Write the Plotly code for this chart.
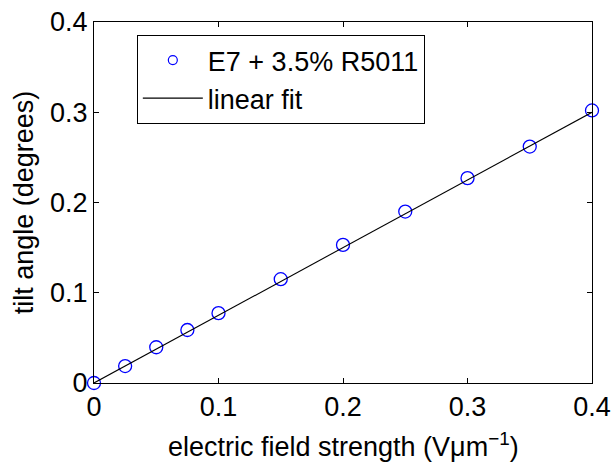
import plotly.graph_objects as go

# Measured tilt angle versus applied field
field = [0.0, 0.025, 0.05, 0.075, 0.1, 0.15, 0.2, 0.25, 0.3, 0.35, 0.4]
tilt = [0.0, 0.0188, 0.0396, 0.0587, 0.0774, 0.115, 0.153, 0.190, 0.227, 0.262, 0.302]

# Linear fit through the data
fit_slope = 0.75
fit_intercept = 0.0
fit_x = [0.0, 0.4]
fit_y = [fit_intercept + fit_slope * v for v in fit_x]

tick_vals = [0, 0.1, 0.2, 0.3, 0.4]
tick_text = ["0", "0.1", "0.2", "0.3", "0.4"]

series_name = "E7 + 3.5% R5011"
x_title = "electric field strength (Vμm<sup>−1</sup>)"
y_title = "tilt angle (degrees)"
font_family = "Liberation Sans, Arial, Helvetica, sans-serif"
blue = "#0000ff"
fs = 27

fig = go.Figure()
# legend entry with a smaller circle than the plotted points
fig.add_trace(go.Scatter(
    x=[None], y=[None], mode="markers", name=series_name,
    marker=dict(symbol="circle-open", size=9, color=blue,
                line=dict(width=1.2, color=blue)),
))
fig.add_trace(go.Scatter(
    x=field, y=tilt, mode="markers", name=series_name, showlegend=False,
    marker=dict(symbol="circle-open", size=13, color=blue,
                line=dict(width=1.3, color=blue)),
    cliponaxis=False,
))
fig.add_trace(go.Scatter(
    x=fit_x, y=fit_y, mode="lines", name="linear fit",
    line=dict(color="black", width=1.1),
))

axis_common = dict(
    showgrid=False, zeroline=False, showline=True, linecolor="black",
    linewidth=1, mirror="ticks", ticks="inside", ticklen=5,
    tickcolor="black", tickvals=tick_vals, ticktext=tick_text,
    tickfont=dict(size=fs, color="black", family=font_family),
    automargin=False,
)

fig.update_layout(
    width=613, height=462,
    margin=dict(l=94, r=21, t=22, b=79),
    paper_bgcolor="white", plot_bgcolor="white",
    font=dict(family=font_family, color="black"),
    xaxis=dict(range=[0, 0.4], **axis_common),
    yaxis=dict(range=[0, 0.4], title=dict(
        text=y_title, font=dict(size=fs), standoff=8),
        **axis_common),
    legend=dict(
        x=0.086, y=0.964, xanchor="left", yanchor="top",
        bgcolor="white", bordercolor="black", borderwidth=1,
        font=dict(size=fs, color="black"), itemwidth=60,
        tracegroupgap=0,
    ),
    showlegend=True,
)

# x-axis title placed as a paper-anchored label below the tick labels
fig.add_annotation(
    text=x_title, xref="paper", yref="paper", x=0.5, y=-0.172,
    xanchor="center", yanchor="middle", showarrow=False,
    font=dict(size=fs, color="black", family=font_family),
)

fig.write_html("out.html")
